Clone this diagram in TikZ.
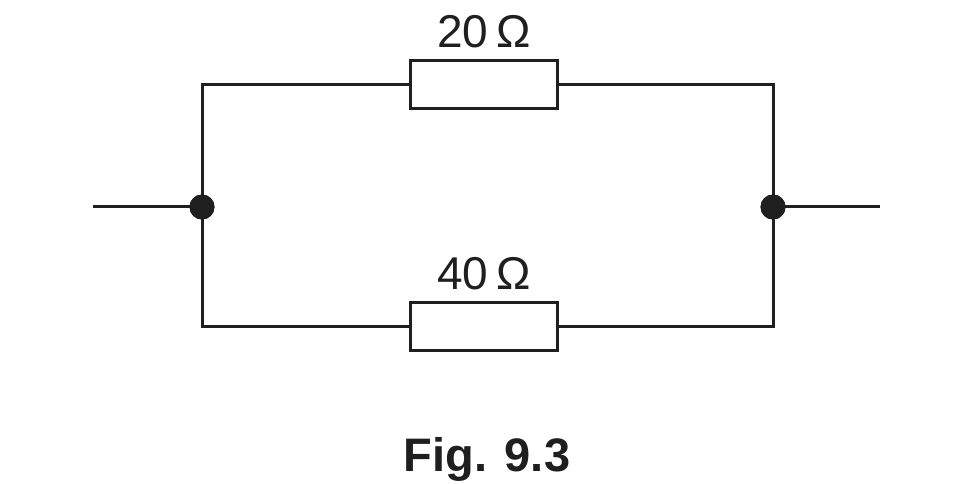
\documentclass[tikz,border=0pt]{standalone}
\usepackage{fontspec}
\setmainfont{Liberation Sans}
\begin{document}
\begin{tikzpicture}[x=1pt,y=-1pt,
  wire/.style={line width=3pt,draw=black!88},
  res/.style={draw=black!88,line width=3pt,fill=white,minimum width=147pt,minimum height=48pt,inner sep=0pt},
  junc/.style={circle,fill=black!88,minimum size=25pt,inner sep=0pt},
  lbl/.style={font=\fontsize{46}{50}\selectfont,text=black!88,inner sep=0pt,anchor=base}]
\useasboundingbox (0,0) rectangle (954,484);
\coordinate (ls) at (93,207);
\coordinate (rs) at (880,207);
\node[junc] (jl) at (202,207) {};
\node[junc] (jr) at (773,207) {};
\coordinate (tl) at (202,85);
\coordinate (tr) at (773,85);
\coordinate (bl) at (202,326);
\coordinate (br) at (773,326);
\node[res] (r1) at (484,85) {};
\node[res] (r2) at (484,326) {};
\draw[wire] (ls) -- (jl.center);
\draw[wire] (jr.center) -- (rs);
\draw[wire] (jl.center) -- (tl) -- (r1.west);
\draw[wire] (r1.east) -- (tr) -- (jr.center);
\draw[wire] (jl.center) -- (bl) -- (r2.west);
\draw[wire] (r2.east) -- (br) -- (jr.center);
\node[junc] at (jl) {};
\node[junc] at (jr) {};
\node[lbl] (t1) at (484,48) {20\,Ω};
\node[lbl] (t2) at (484,289) {40\,Ω};
\node[lbl,font=\fontsize{47}{52}\selectfont\bfseries] (fig) at (487,471) {Fig. 9.3};
\end{tikzpicture}
\end{document}
